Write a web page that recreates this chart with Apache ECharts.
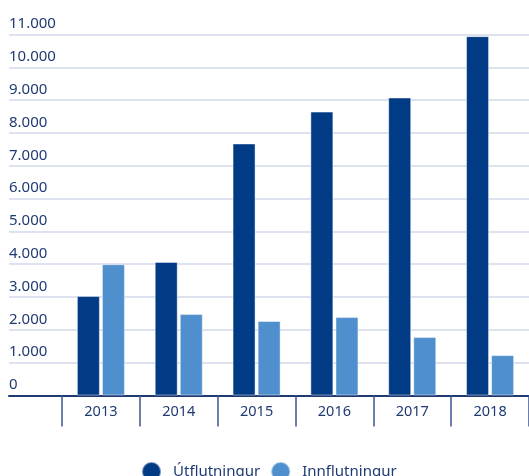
<!DOCTYPE html>
<html>
<head>
<meta charset="utf-8">
<script src="https://cdn.jsdelivr.net/npm/echarts@6/dist/echarts.min.js"></script>
<style>
  html, body { margin: 0; padding: 0; background: #fff; }
  #chart { width: 529px; height: 476px; }
</style>
</head>
<body>
<div id="chart"></div>
<script>
// data
const years = ['2013', '2014', '2015', '2016', '2017', '2018'];
const utflutningur = [3030, 4070, 7680, 8650, 9080, 10950];
const innflutningur = [4000, 2480, 2270, 2390, 1780, 1230];
const seriesNames = ['Útflutningur', 'Innflutningur'];

const darkBlue = '#023b85';
const lightBlue = '#4f8fcd';
const textColor = '#1f3a73';

const chart = echarts.init(document.getElementById('chart'));

function fmt(v) {
  return String(v).replace(/\B(?=(\d{3})+(?!\d))/g, '.');
}

const option = {
  animation: false,
  textStyle: { fontFamily: 'Noto Sans' },
  grid: [
    // background grid: gridlines + y labels + baseline over full width
    { left: 9, right: 0, top: 34.5, bottom: 80.5 },
    // bars grid
    { left: 62, width: 475, top: 34.5, bottom: 80.5 }
  ],
  legend: {
    data: seriesNames,
    left: 136,
    top: 456,
    icon: 'circle',
    itemWidth: 19,
    itemHeight: 19,
    itemGap: 10,
    textStyle: { color: textColor, fontSize: 15, padding: [0, 0, 0, 7] }
  },
  xAxis: [
    {
      gridIndex: 0,
      type: 'value',
      min: 0,
      max: 1,
      axisLabel: { show: false },
      axisTick: { show: false },
      splitLine: { show: false },
      axisLine: { show: true, lineStyle: { color: textColor, width: 2 } }
    },
    {
      gridIndex: 1,
      type: 'category',
      data: years,
      axisLine: { show: false },
      axisTick: { show: true, length: 31, interval: 0, lineStyle: { color: '#3a5590', width: 1.5 } },
      axisLabel: { color: textColor, fontSize: 14.5, margin: 9, interval: 0 }
    }
  ],
  yAxis: [
    {
      gridIndex: 0,
      type: 'value',
      min: 0,
      max: 11000,
      interval: 1000,
      axisLine: { show: false },
      axisTick: { show: false },
      axisLabel: {
        inside: true,
        margin: 0,
        color: textColor,
        fontSize: 15,
        verticalAlign: 'bottom',
        padding: [0, 0, 3, 0],
        formatter: fmt
      },
      splitLine: { lineStyle: { color: '#dce3ee', width: 2 } }
    },
    {
      gridIndex: 1,
      type: 'value',
      min: 0,
      max: 11000,
      interval: 1000,
      axisLine: { show: false },
      axisTick: { show: false },
      axisLabel: { show: false },
      splitLine: { show: false }
    }
  ],
  series: [
    {
      name: seriesNames[0],
      type: 'bar',
      xAxisIndex: 1,
      yAxisIndex: 1,
      data: utflutningur,
      barWidth: 23,
      barGap: '9%',
      itemStyle: { color: darkBlue, borderColor: 'rgba(255,255,255,0.45)', borderWidth: 1 }
    },
    {
      name: seriesNames[1],
      type: 'bar',
      xAxisIndex: 1,
      yAxisIndex: 1,
      data: innflutningur,
      barWidth: 23,
      itemStyle: { color: lightBlue, borderColor: 'rgba(255,255,255,0.45)', borderWidth: 1 }
    }
  ]
};

chart.setOption(option);
</script>
</body>
</html>
